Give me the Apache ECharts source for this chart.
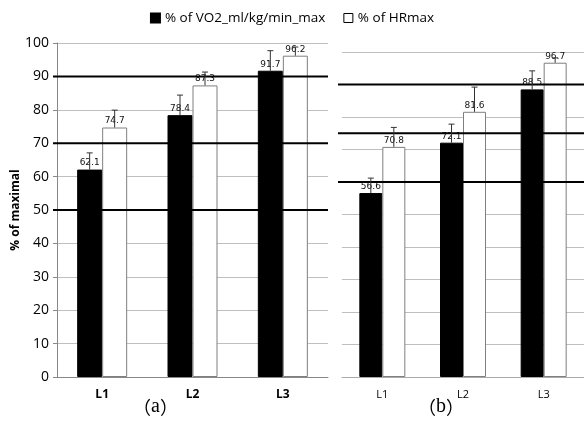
<!DOCTYPE html>
<html><head><meta charset="utf-8">
<script src="https://cdn.jsdelivr.net/npm/echarts@6/dist/echarts.min.js"></script>
<style>html,body{margin:0;padding:0;background:#fff}#c{width:584px;height:427px}</style>
</head><body><div id="c"></div>
<script>
const categories = ['L1', 'L2', 'L3'];
const nameVO2 = '% of VO2_ml/kg/min_max';
const nameHR = '% of HRmax';
// panel (a)
const vo2A = [62.1, 78.4, 91.7];
const hrA = [74.7, 87.3, 96.2];
const vo2AErr = [5.0, 6.0, 6.0];
const hrAErr = [5.2, 4.0, 2.6];
const refA = [50, 70, 90];
// panel (b)
const vo2B = [56.6, 72.1, 88.5];
const hrB = [70.8, 81.6, 96.7];
const vo2BErr = [4.6, 5.7, 5.7];
const hrBErr = [6.0, 7.6, 1.5];
const refB = [60, 75, 90];
const captionLetters = ['a', 'b'];

const chart = echarts.init(document.getElementById('c'));
const FONT = 'Open Sans';
const BW_A = 25, BW_B = 23;

function errSeries(name, vals, errs, gi, side, bw) {
  return {
    type: 'custom', name: name, xAxisIndex: gi, yAxisIndex: gi, z: 5,
    data: vals.map((v, i) => [i, v, errs[i]]),
    renderItem: function (params, api) {
      const top = api.coord([api.value(0), api.value(1) + api.value(2)]);
      const base = api.coord([api.value(0), api.value(1)]);
      const x = base[0] + side * bw / 2;
      return { type: 'group', children: [
        { type: 'line', shape: { x1: x, y1: base[1], x2: x, y2: top[1] }, style: { stroke: '#333', lineWidth: 1 } },
        { type: 'line', shape: { x1: x - 3, y1: top[1], x2: x + 3, y2: top[1] }, style: { stroke: '#333', lineWidth: 1 } }
      ]};
    },
    tooltip: { show: false }
  };
}
function refSeries(vals, gi) {
  return {
    type: 'custom', xAxisIndex: gi, yAxisIndex: gi, z: 4, silent: true,
    data: vals.map(v => [0, v]),
    renderItem: function (params, api) {
      const cs = params.coordSys;
      const p = api.coord([0, api.value(1)]);
      return { type: 'line', shape: { x1: cs.x - 4, y1: p[1], x2: cs.x + cs.width, y2: p[1] }, style: { stroke: '#000', lineWidth: 2 } };
    }
  };
}
function barSeries(name, vals, gi, color, bw) {
  return {
    type: 'bar', name: name, xAxisIndex: gi, yAxisIndex: gi, data: vals,
    barWidth: bw, barGap: '0%', z: 3,
    itemStyle: { color: color, borderColor: color === '#000' ? '#000' : '#7f7f7f', borderWidth: 1 },
    label: { show: true, position: 'top', distance: 2, fontSize: 9, fontFamily: 'DejaVu Sans', color: '#111' }
  };
}
function caption(letter, left) {
  return { type: 'text', left: left, top: 397, style: {
    text: '{p|（}{l|' + letter + '}{p|）}',
    rich: {
      p: { fontFamily: 'Noto Sans CJK SC', fontSize: 18, fill: '#000' },
      l: { fontFamily: 'Liberation Serif', fontSize: 20, fill: '#000' }
    } } };
}

chart.setOption({
  animation: false,
  legend: {
    top: 6, left: 'center', itemWidth: 9, itemHeight: 9, itemGap: 18,
    textStyle: { fontFamily: FONT, fontSize: 13.5, color: '#000' },
    data: [
      { name: nameVO2, icon: 'rect', itemStyle: { color: '#000' } },
      { name: nameHR, icon: 'rect', itemStyle: { color: '#fff', borderColor: '#000', borderWidth: 1 } }
    ]
  },
  grid: [
    { left: 57, top: 43, width: 271, height: 334 },
    { left: 342, top: 52, width: 242, height: 325 }
  ],
  xAxis: [
    { type: 'category', gridIndex: 0, data: categories,
      axisLine: { lineStyle: { color: '#888' } },
      axisTick: { length: 4, lineStyle: { color: '#888' } },
      axisLabel: { fontFamily: FONT, fontWeight: 'bold', fontSize: 12, color: '#000', margin: 12 } },
    { type: 'category', gridIndex: 1, data: categories,
      axisLine: { lineStyle: { color: '#aaa' } },
      axisTick: { length: 4, lineStyle: { color: '#aaa' } },
      axisLabel: { fontFamily: FONT, fontSize: 11, color: '#000', margin: 12 } }
  ],
  yAxis: [
    { type: 'value', gridIndex: 0, min: 0, max: 100, interval: 10,
      name: '% of maximal', nameLocation: 'middle', nameGap: 34,
      nameTextStyle: { fontFamily: FONT, fontWeight: 'bold', fontSize: 12, color: '#000' },
      axisLine: { show: true, lineStyle: { color: '#888' } },
      axisTick: { show: true, length: 4, lineStyle: { color: '#888' } },
      splitLine: { lineStyle: { color: '#bfbfbf' } },
      axisLabel: { fontFamily: FONT, fontSize: 14, color: '#000', margin: 8 } },
    { type: 'value', gridIndex: 1, min: 0, max: 100, interval: 10,
      axisLine: { show: false }, axisTick: { show: false }, axisLabel: { show: false },
      splitLine: { lineStyle: { color: '#bfbfbf' } } }
  ],
  series: [
    barSeries(nameVO2, vo2A, 0, '#000', BW_A),
    barSeries(nameHR, hrA, 0, '#fff', BW_A),
    barSeries(nameVO2, vo2B, 1, '#000', BW_B),
    barSeries(nameHR, hrB, 1, '#fff', BW_B),
    refSeries(refA, 0),
    refSeries(refB, 1),
    errSeries(nameVO2, vo2A, vo2AErr, 0, -1, BW_A),
    errSeries(nameHR, hrA, hrAErr, 0, 1, BW_A),
    errSeries(nameVO2, vo2B, vo2BErr, 1, -1, BW_B),
    errSeries(nameHR, hrB, hrBErr, 1, 1, BW_B)
  ],
  graphic: [caption(captionLetters[0], 133), caption(captionLetters[1], 418)]
});
</script></body></html>
